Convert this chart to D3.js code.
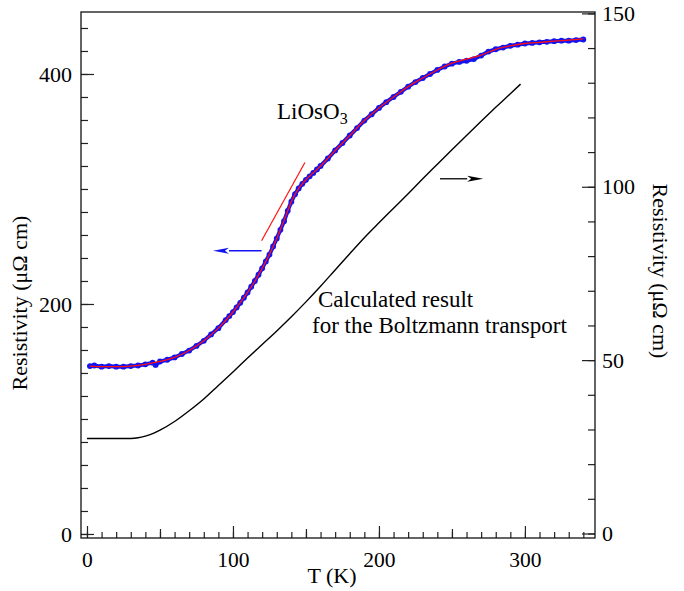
<!DOCTYPE html>
<html>
<head>
<meta charset="utf-8">
<script src="https://cdn.jsdelivr.net/npm/d3@7"></script>
<style>
  body { margin: 0; background: #fff; }
  svg, text { font-family: 'Liberation Serif', 'Times New Roman', serif; }
</style>
</head>
<body>
<script>
// measured resistivity of LiOsO3 (left axis, uOhm cm)
var meas_t = [2, 5, 10, 15, 20, 25, 30, 35, 40, 45, 47, 50, 55, 60, 65, 70, 75, 80, 85, 90, 95,
  97.5, 100, 102.5, 105, 107.5, 110, 112.5, 115, 117.5, 120, 122.5, 125, 127.5, 130, 132.5, 135, 137.5,
  140, 142.5, 145, 147.5, 150, 152.5, 155, 157.5, 160, 165, 170, 175, 180, 185, 190, 195, 200, 205,
  210, 215, 220, 225, 230, 235, 240, 245, 250, 255, 260, 265, 270, 275, 280, 285, 290, 295, 300,
  305, 310, 315, 320, 325, 330, 335, 340];
var meas_rho = [146, 146.5, 145.5, 146, 145.5, 145.5, 146, 146.5, 147.5, 149, 147, 150, 151.5, 153.5, 156.5, 159.5, 163.5, 168, 173.5, 179, 186,
  189.5, 193, 197, 201, 205.5, 210, 215, 220, 225.5, 231, 237, 243, 250, 257, 264.5, 272, 281,
  289, 295.5, 300.5, 304.5, 308, 311, 314, 317, 320, 326.5, 333.5, 340, 346.5, 353, 359.5, 365, 370.5, 375.5,
  380, 384.5, 389, 393, 396.5, 400, 403.5, 406.5, 409, 410.5, 411.5, 413, 416, 419.5, 421.5, 423, 424.5, 425.5, 426.5,
  427, 427.5, 428, 428.5, 429, 429, 429.5, 430];

// fit line through the data (left axis)
var fit_t = [2, 10, 20, 30, 40, 50, 60, 70, 80, 90, 100, 110, 120, 130, 135, 140, 145, 150, 160, 170, 180, 190,
  200, 210, 220, 230, 240, 250, 260, 270, 280, 290, 300, 310, 320, 330, 340];
var fit_rho = [146, 145.5, 145.5, 146, 147.5, 150, 153.5, 159.5, 168, 179, 193, 210, 231, 257, 272.5, 289, 300.5, 308, 320, 333.5, 346.5, 359.5,
  370.5, 380, 389, 396.5, 403.5, 409.5, 413, 416.5, 421.5, 424.5, 426.5, 427.5, 428.5, 429.5, 430.5];

// tangent at the transition (left axis)
var tangent_t = [119.6, 149.3];
var tangent_rho = [255, 323];

// calculated Boltzmann transport result (right axis)
var calc_t = [0, 10, 20, 30, 35, 40, 45, 50, 60, 70, 80, 90, 100, 110, 120, 130, 140, 150, 160, 170,
  180, 190, 200, 210, 220, 230, 240, 250, 260, 270, 280, 290, 297];
var calc_rho = [27.4, 27.4, 27.4, 27.4, 27.6, 28.1, 28.8, 29.8, 32.3, 35.4, 38.8, 42.7, 46.6, 50.6, 54.5, 58.4, 62.5, 66.8, 71.3, 76,
  80.7, 85.3, 89.6, 93.8, 98, 102.3, 106.5, 110.7, 114.8, 118.9, 122.9, 126.8, 129.6];

// arrows: [t_start, t_end, value]
var blue_arrow = [119.6, 86.3, 246.3];
var black_arrow = [241.8, 271.4, 102.3];

// tick values
var x_major = [0, 100, 200, 300];
var x_mid = [50, 150, 250];
var left_major = [0, 200, 400];
var right_major = [0, 50, 100, 150];

var x_scale, yl_scale, yr_scale;

function arrow(svg, x0, x1, y, color)  {
  var dir = x1 > x0 ? 1 : -1;
  var head = 16;
  svg.append('line')
    .attr('x1', x0).attr('y1', y).attr('x2', x1 - dir * head).attr('y2', y)
    .attr('stroke', color).attr('stroke-width', 1.3);
  svg.append('path')
    .attr('d', 'M' + x1 + ',' + y + 'L' + (x1 - dir * head) + ',' + (y - 3) + 'L' + (x1 - dir * head * 0.75) + ',' + y +
      'L' + (x1 - dir * head) + ',' + (y + 3) + 'Z')
    .attr('fill', color);
}

function style_axis(g, size)  {
  g.select('.domain').remove();
  g.selectAll('line').attr('stroke', '#222').attr('stroke-width', 1.2);
  g.attr('font-family', null).attr('font-size', null);
  g.selectAll('text').attr('font-size', size).attr('fill', '#000')
    .attr('font-family', "'Liberation Serif', 'Times New Roman', serif");
}

function plot_it()  {
  var width = 684, height = 591;
  var left = 81, right = 595, top = 12, bottom = 538;

  var svg = d3.select('body').append('svg').attr('width', width).attr('height', height)
    .attr('font-family', "'Liberation Serif', serif");

  x_scale = d3.scaleLinear().domain([-4.1, 348]).range([left, right]);
  yl_scale = d3.scaleLinear().domain([-3.5, 453.9]).range([bottom, top]);
  yr_scale = d3.scaleLinear().domain([-1.3, 150.4]).range([bottom, top]);

  // x axis ticks (pointing inward)
  var gx = svg.append('g').attr('transform', 'translate(0,' + bottom + ')');
  gx.append('g').call(d3.axisBottom(x_scale).tickValues(d3.range(0, 341, 10)).tickSize(-6).tickFormat(''));
  gx.append('g').call(d3.axisBottom(x_scale).tickValues(x_mid).tickSize(-9).tickFormat(''));
  gx.append('g').call(d3.axisBottom(x_scale).tickValues(x_major).tickSize(-12).tickPadding(14).tickFormat(d3.format('d')));
  gx.selectAll('g').each(function() { style_axis(d3.select(this), 21.5); });

  // left axis
  var gl = svg.append('g').attr('transform', 'translate(' + left + ',0)');
  gl.append('g').call(d3.axisLeft(yl_scale).tickValues(d3.range(0, 441, 20)).tickSize(-7).tickFormat(''));
  gl.append('g').call(d3.axisLeft(yl_scale).tickValues(left_major).tickSize(-13).tickPadding(9).tickFormat(d3.format('d')));
  gl.selectAll('g').each(function() { style_axis(d3.select(this), 22); });

  // right axis
  var gr = svg.append('g').attr('transform', 'translate(' + right + ',0)');
  gr.append('g').call(d3.axisRight(yr_scale).tickValues(d3.range(0, 151, 10)).tickSize(-7).tickFormat(''));
  gr.append('g').call(d3.axisRight(yr_scale).tickValues(right_major).tickSize(-13).tickPadding(7).tickFormat(d3.format('d')));
  gr.selectAll('g').each(function() { style_axis(d3.select(this), 22); });

  // frame
  svg.append('rect').attr('x', left).attr('y', top).attr('width', right - left).attr('height', bottom - top)
    .attr('fill', 'none').attr('stroke', '#111').attr('stroke-width', 1.3);

  // calculated curve
  var calc_line = d3.line().x(function(d, i) { return x_scale(calc_t[i]); })
    .y(function(d) { return yr_scale(d); }).curve(d3.curveMonotoneX);
  svg.append('path').attr('d', calc_line(calc_rho)).attr('fill', 'none').attr('stroke', '#000').attr('stroke-width', 1.4);

  // measured data: band + dots
  var meas_line = d3.line().x(function(d, i) { return x_scale(meas_t[i]); })
    .y(function(d) { return yl_scale(d); });
  svg.append('path').attr('d', meas_line(meas_rho)).attr('fill', 'none').attr('stroke', '#1414f0').attr('stroke-width', 4);
  svg.append('g').selectAll('circle').data(meas_rho).enter().append('circle')
    .attr('cx', function(d, i) { return x_scale(meas_t[i]); })
    .attr('cy', function(d) { return yl_scale(d); })
    .attr('r', 2.9).attr('fill', '#1414f0');

  // fit
  var fit_line = d3.line().x(function(d, i) { return x_scale(fit_t[i]); })
    .y(function(d) { return yl_scale(d); }).curve(d3.curveMonotoneX);
  svg.append('path').attr('d', fit_line(fit_rho)).attr('fill', 'none').attr('stroke', '#ff1010').attr('stroke-width', 1.3);

  // tangent
  svg.append('line')
    .attr('x1', x_scale(tangent_t[0])).attr('y1', yl_scale(tangent_rho[0]))
    .attr('x2', x_scale(tangent_t[1])).attr('y2', yl_scale(tangent_rho[1]))
    .attr('stroke', '#ff1010').attr('stroke-width', 1.2);

  // arrows
  arrow(svg, x_scale(blue_arrow[0]), x_scale(blue_arrow[1]), yl_scale(blue_arrow[2]), '#1414f0');
  arrow(svg, x_scale(black_arrow[0]), x_scale(black_arrow[1]), yr_scale(black_arrow[2]), '#000');

  // labels
  var name = svg.append('text').attr('x', 277).attr('y', 119).attr('font-size', 23);
  name.append('tspan').text('LiOsO');
  name.append('tspan').attr('font-size', 16).attr('dy', 5).text('3');

  svg.append('text').attr('x', 318).attr('y', 307).attr('font-size', 23).text('Calculated result');
  svg.append('text').attr('x', 312).attr('y', 333).attr('font-size', 23).text('for the Boltzmann transport');

  svg.append('text').attr('x', 332).attr('y', 583).attr('font-size', 22).attr('text-anchor', 'middle').text('T (K)');
  svg.append('text').attr('transform', 'translate(27,303) rotate(-90)').attr('font-size', 22)
    .attr('text-anchor', 'middle').text('Resistivity (\u03bc\u03a9 cm)');
  svg.append('text').attr('transform', 'translate(653,271) rotate(90)').attr('font-size', 22)
    .attr('text-anchor', 'middle').text('Resistivity (\u03bc\u03a9 cm)');
}

plot_it();
</script>
</body>
</html>
